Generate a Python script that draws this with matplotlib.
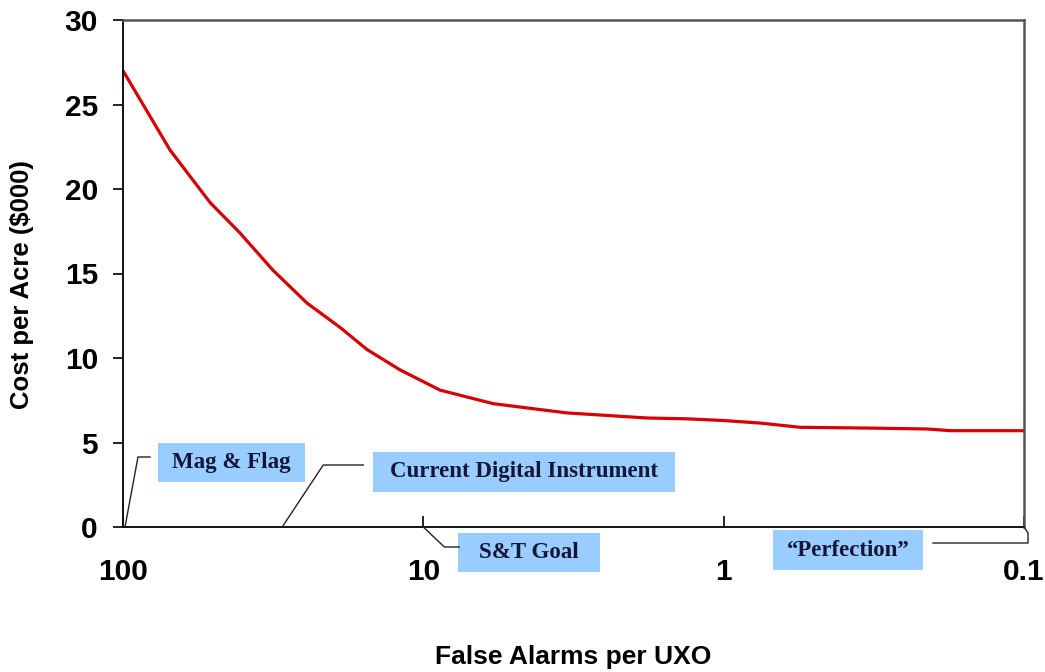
import matplotlib
matplotlib.use("Agg")
import matplotlib.pyplot as plt
from matplotlib.patches import Rectangle
from matplotlib.lines import Line2D

# data
false_alarms = [100, 69.7, 51.3, 40.8, 31.7, 24.4, 18.9, 15.4, 11.96, 8.8, 5.86,
                4.31, 3.32, 2.44, 1.8, 1.32, 1.0, 0.756, 0.557, 0.318, 0.21,
                0.176, 0.1]
cost_per_acre = [27.0, 22.3, 19.2, 17.4, 15.2, 13.25, 11.8, 10.5, 9.3, 8.1, 7.3,
                 7.0, 6.75, 6.6, 6.45, 6.4, 6.3, 6.15, 5.9, 5.85, 5.8, 5.7, 5.7]
x_ticks = [100, 10, 1, 0.1]
x_tick_labels = ["100", "10", "1", "0.1"]
y_ticks = [0, 5, 10, 15, 20, 25, 30]

# callouts: label, x value pointed at
callouts = ["Mag & Flag", "Current Digital Instrument", "S&T Goal", "\u201cPerfection\u201d"]
callout_x = [100, 29.5, 10, 0.1]

W, H = 1045, 672
fig = plt.figure(figsize=(W / 100, H / 100), dpi=100)
ax = fig.add_axes([123 / W, 1 - 527 / H, 901 / W, 507 / H])

ax.plot(false_alarms, cost_per_acre, color="#d80000", lw=2.3,
        solid_capstyle="round", solid_joinstyle="round")
ax.set_xscale("log")
ax.set_xlim(100, 0.1)
ax.set_ylim(0, 30)
ax.set_xticks(x_ticks)
ax.set_xticklabels(x_tick_labels)
ax.minorticks_off()
ax.set_yticks(y_ticks)

font = "Liberation Sans"
ax.tick_params(axis="x", direction="in", length=8, width=1.2, pad=22,
               labelsize=21.5)
ax.tick_params(axis="y", direction="out", length=7, width=1.2, pad=11,
               labelsize=21.5)
for lab in ax.get_xticklabels() + ax.get_yticklabels():
    lab.set_fontfamily(font)
    lab.set_fontweight("bold")

for side in ["left", "bottom"]:
    ax.spines[side].set_color("#111111")
    ax.spines[side].set_linewidth(1.4)
for side in ["top", "right"]:
    ax.spines[side].set_color("#555555")
    ax.spines[side].set_linewidth(1.8)

fig.text(22 / W, 1 - 285 / H, "Cost per Acre ($000)", rotation=90, ha="center",
         va="center", fontsize=18.5, fontweight="bold", family=font)
fig.text(573 / W, 1 - 657 / H, "False Alarms per UXO", ha="center", va="center",
         fontsize=19, fontweight="bold", family=font)

# callout layout in image pixels: leader offsets from target, box (x0, y0, x1, y1)
leaders = [
    [(2, 0), (15, -70), (27, -70)],
    [(0, 0), (41, -62), (81, -62)],
    [(0, 0), (21, 20), (36, 20)],
    [(0, 0), (4, 6), (4, 16), (-91, 16)],
]
boxes = [
    (158, 443, 305, 482),
    (373, 452, 675, 492),
    (458, 533, 600, 572),
    (773, 530, 923, 570),
]

fig.canvas.draw()
for label, xv, pts, (x0, y0, x1, y1) in zip(callouts, callout_x, leaders, boxes):
    tx, ty = ax.transData.transform((xv, 0))
    xs = [tx + dx for dx, dy in pts]
    ys = [ty - dy for dx, dy in pts]
    fig.add_artist(Line2D(xs, ys, transform=None, color="#222222", lw=1.0))
    fig.add_artist(Rectangle((x0, H - y1), x1 - x0, y1 - y0, transform=None,
                             facecolor="#99ccff", edgecolor="none"))
    fig.text((x0 + x1) / 2 / W, 1 - (y0 + y1) / 2 / H, label, ha="center",
             va="center", fontsize=16.5, fontweight="bold", family="Liberation Serif",
             color="#15153a")

fig.savefig("out.png", dpi=100)
